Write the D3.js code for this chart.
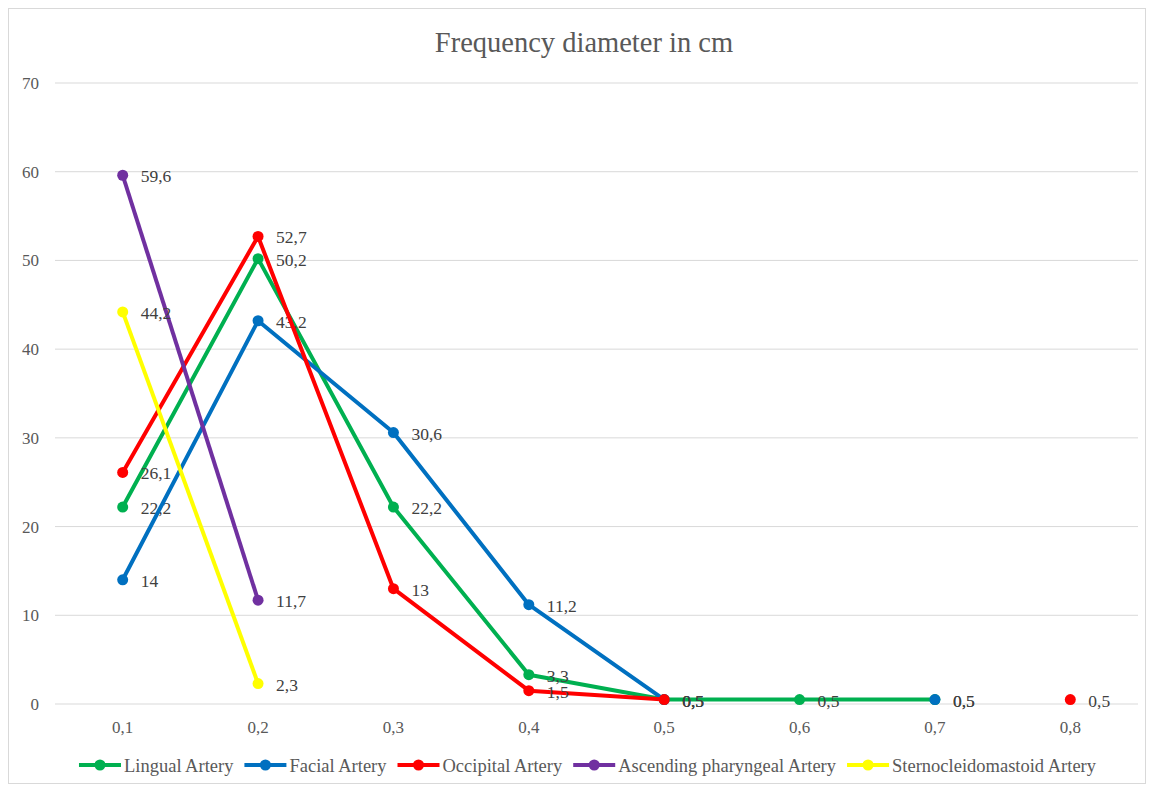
<!DOCTYPE html>
<html><head><meta charset="utf-8">
<script src="https://cdn.jsdelivr.net/npm/d3@7"></script>
<style>body{margin:0;background:#fff}svg{display:block}svg text{font-family:"Liberation Serif","Times New Roman","DejaVu Serif",serif}</style>
</head><body><svg id="c" width="1154" height="789"></svg>
<script>
const categories = ["0,1","0,2","0,3","0,4","0,5","0,6","0,7","0,8"];
const seriesNames = ["Lingual Artery","Facial Artery","Occipital Artery","Ascending pharyngeal Artery","Sternocleidomastoid Artery"];
const seriesColors = ["#00b050","#0070c0","#ff0000","#7030a0","#ffff00"];
const lingual = [22.2, 50.2, 22.2, 3.3, 0.5, 0.5, 0.5, null];
const facial = [14, 43.2, 30.6, 11.2, 0.5, null, 0.5, null];
const occipital = [26.1, 52.7, 13, 1.5, 0.5, null, null, 0.5];
const ascPharyngeal = [59.6, 11.7, null, null, null, null, null, null];
const sternocleido = [44.2, 2.3, null, null, null, null, null, null];
const yTicks = [0,10,20,30,40,50,60,70];
const title = "Frequency diameter in cm";

const series = [lingual, facial, occipital, ascPharyngeal, sternocleido];
const svg = d3.select("#c");
svg.append("rect").attr("x",8.5).attr("y",8.5).attr("width",1137).attr("height",775)
  .attr("fill","#fff").attr("stroke","#d9d9d9");

const pL = 55, pR = 1138, pT = 83, pB = 704;
const x = d3.scaleBand().domain(categories).range([pL, pR]);
const y = d3.scaleLinear().domain([0,70]).range([pB, pT]);
const cx = c => x(c) + x.bandwidth()/2;

svg.append("text").attr("x",584).attr("y",52).attr("text-anchor","middle")
  .attr("font-size",28.5).attr("fill","#595959").text(title);

svg.append("g").selectAll("line").data(yTicks).join("line")
  .attr("x1",pL).attr("x2",pR).attr("y1",d=>y(d)).attr("y2",d=>y(d))
  .attr("stroke","#d9d9d9").attr("stroke-width",1);
const ya = svg.append("g").attr("transform",`translate(${pL},0)`)
  .call(d3.axisLeft(y).tickValues(yTicks).tickSize(0).tickPadding(16));
ya.select(".domain").remove();
const xa = svg.append("g").attr("transform",`translate(0,${pB})`)
  .call(d3.axisBottom(x).tickSize(0).tickPadding(17));
xa.select(".domain").remove();
ya.attr("font-family",null).attr("font-size",null);
xa.attr("font-family",null).attr("font-size",null);
ya.selectAll("text").attr("font-size",17).attr("fill","#595959");
xa.selectAll("text").attr("font-size",17).attr("fill","#595959");

const line = d3.line().defined(d=>d.v!=null).x(d=>cx(d.c)).y(d=>y(d.v));
series.forEach((s,i)=>{
  const pts = s.map((v,j)=>({c:categories[j], v}));
  const g = svg.append("g");
  g.append("path").datum(pts).attr("d",line).attr("fill","none")
    .attr("stroke",seriesColors[i]).attr("stroke-width",4).attr("stroke-linejoin","round");
  g.selectAll("circle").data(pts.filter(d=>d.v!=null)).join("circle")
    .attr("cx",d=>cx(d.c)).attr("cy",d=>y(d.v)).attr("r",5.5).attr("fill",seriesColors[i]);
  g.selectAll("text").data(pts.filter(d=>d.v!=null)).join("text")
    .attr("x",d=>cx(d.c)+18).attr("y",d=>y(d.v)+7)
    .attr("font-size",17.5).attr("fill","#404040")
    .text(d=>String(d.v).replace(".",","));
});

const leg = svg.append("g").attr("transform","translate(0,765)");
const items = [];
let lx = 0;
seriesNames.forEach((n,i)=>{
  const g = leg.append("g");
  g.append("line").attr("x1",0).attr("x2",42).attr("y1",0).attr("y2",0)
    .attr("stroke",seriesColors[i]).attr("stroke-width",4);
  g.append("circle").attr("cx",21).attr("cy",0).attr("r",5.5).attr("fill",seriesColors[i]);
  const t = g.append("text").attr("x",45).attr("y",7)
    .attr("font-size",18.5).attr("fill","#595959").text(n);
  g.attr("transform",`translate(${lx},0)`);
  items.push(g);
  lx += 45 + t.node().getComputedTextLength() + 11;
});
const total = lx - 11;
leg.attr("transform",`translate(${587.5 - total/2},765)`);
</script></body></html>
